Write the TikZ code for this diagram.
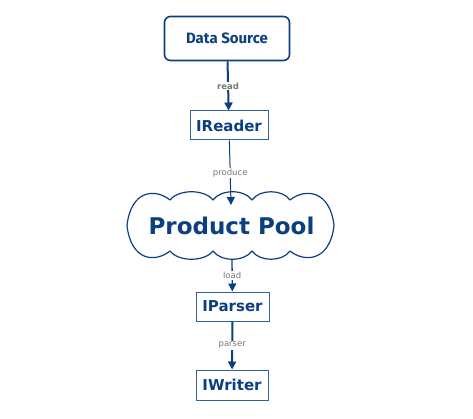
\documentclass[tikz,border=0pt]{standalone}
\usepackage{fontspec}
\setmainfont{DejaVu Sans}
\newfontfamily\dsfont{Fira Sans}
\usetikzlibrary{arrows.meta}
\definecolor{navy}{HTML}{0B3F7F}
\definecolor{boxline}{HTML}{2F639C}
\definecolor{lbl}{HTML}{777777}
\tikzset{
  conn/.style={draw=navy, -{Triangle[width=8pt,length=8pt]}},
  thickconn/.style={conn, line width=2pt},
  thinconn/.style={conn, line width=1pt},
  lab/.style={fill=white, text=lbl, font=\fontsize{8.5}{9}\selectfont, inner sep=1pt},
  boldlab/.style={lab, font=\fontsize{8.5}{9}\selectfont\bfseries},
  cls/.style={draw=boxline, line width=1pt, fill=white, text=navy, font=\fontsize{15}{17}\selectfont\bfseries, inner sep=0pt},
  cloudline/.style={draw=navy, line width=1.2pt, fill=white, line join=round},
}
\begin{document}
\begin{tikzpicture}[x=1pt,y=-1pt]
\useasboundingbox[fill=white] (0,0) rectangle (473,419);
\node[draw=navy, line width=1.6pt, rounded corners=6pt, fill=white, text=navy,
      font=\dsfont\fontsize{15}{17}\selectfont\bfseries,
      minimum width=125pt, minimum height=44pt, inner sep=0pt] (ds) at (227,38.5) {Data Source};
\node[cls, minimum width=78pt, minimum height=29pt] (ir) at (229,125.5) {IReader};
% cloud outline
\path[cloudline] (170,200)
  .. controls (178.6,189) and (204.4,189) .. (213,200)
  .. controls (220.8,189) and (244.2,189) .. (252,200)
  .. controls (259.6,189) and (282.4,189) .. (290,200)
  .. controls (305,188) and (330,190) .. (334,225.5)
  .. controls (330,261) and (305,263) .. (290,251)
  .. controls (282.4,262) and (259.6,262) .. (252,251)
  .. controls (244.2,262) and (220.8,262) .. (213,251)
  .. controls (204.4,262) and (178.6,262) .. (170,251)
  .. controls (155,263) and (131,261) .. (127,225.5)
  .. controls (131,190) and (155,188) .. (170,200) -- cycle;
\node[text=navy, font=\fontsize{23}{26}\selectfont\bfseries, inner sep=0pt] (pool) at (231.5,225.5) {Product Pool};
\node[cls, minimum width=73pt, minimum height=29pt] (ip) at (232.5,306.5) {IParser};
\node[cls, minimum width=72pt, minimum height=30pt] (iw) at (232,385) {IWriter};
\coordinate (pooltop) at (231,205);
\coordinate (poolbot) at (232,259.5);
\draw[thickconn] (ds) -- node[boldlab] {read} (ir);
\draw[thinconn] (ir) -- node[lab] {produce} (pooltop);
\draw[conn, line width=1.3pt] (poolbot) -- node[lab] {load} (ip);
\draw[thickconn] (ip) -- node[lab] {parser} (iw);
\end{tikzpicture}
\end{document}
